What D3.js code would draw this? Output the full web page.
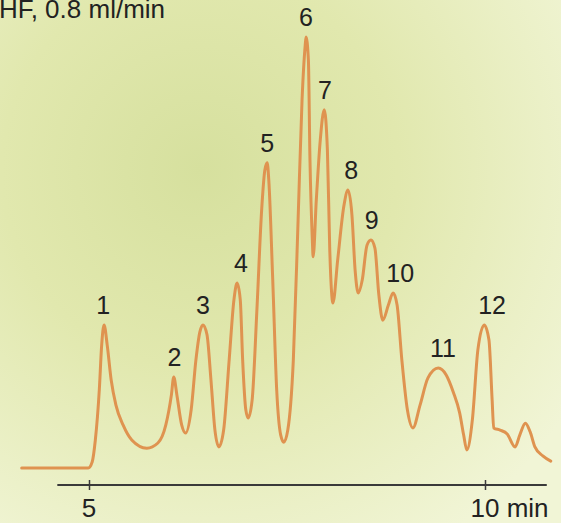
<!DOCTYPE html>
<html>
<head>
<meta charset="utf-8">
<script src="https://cdn.jsdelivr.net/npm/d3@7"></script>
<style>
html,body{margin:0;padding:0;overflow:hidden;background:#e8eebd;}
svg{display:block;}
</style>
</head>
<body>
<div id="chart"></div>
<script>
// ---- data ----
const titleText = "THF, 0.8 ml/min";
const retentionTime = [4.15,4.99,5.04,5.08,5.13,5.16,5.19,5.23,5.28,5.34,5.43,5.54,5.73,5.87,5.97,6.04,6.07,6.11,6.17,6.22,6.29,6.35,6.40,6.44,6.49,6.54,6.59,6.64,6.70,6.77,6.83,6.87,6.91,6.94,6.98,7.01,7.06,7.12,7.18,7.22,7.25,7.27,7.32,7.37,7.42,7.46,7.51,7.58,7.64,7.69,7.73,7.74,7.77,7.79,7.82,7.83,7.87,7.92,7.97,8.01,8.04,8.08,8.14,8.22,8.27,8.32,8.36,8.40,8.45,8.51,8.56,8.61,8.66,8.71,8.78,8.84,8.89,8.95,9.02,9.09,9.18,9.28,9.41,9.51,9.60,9.68,9.73,9.77,9.84,9.91,9.99,10.05,10.09,10.11,10.19,10.28,10.38,10.44,10.51,10.57,10.63,10.73,10.83];
const signal = [0,0,1.4,6.5,18.1,28.5,33.2,28.5,20.4,14.6,10.0,6.5,4.6,5.8,10.0,16.9,21.1,16.9,10.0,8.1,13.5,25.1,31.6,33.2,30.9,20.4,8.8,4.9,8.8,25.1,39.0,42.9,39.0,25.1,13.5,11.6,15.8,36.7,59.9,69.1,70.8,66.8,43.6,18.1,7.7,6.0,8.8,25.1,57.5,85.4,98.1,100,94.7,71.5,52.9,49.0,62.2,76.1,83.1,73.8,50.6,38.3,48.3,61.0,64.5,58.7,45.9,40.6,43.6,51.7,52.9,51.0,40.1,34.3,37.8,40.6,37.8,25.1,13.5,9.3,14.6,20.9,23.2,21.6,17.6,12.8,7.7,4.2,11.1,27.4,33.2,29.7,15.8,9.3,8.8,7.9,4.9,7.7,10.4,8.4,4.9,2.8,1.6];
const peakLabels = ["1","2","3","4","5","6","7","8","9","10","11","12"];
const peakLabelTime = [5.18,6.08,6.44,6.92,7.25,7.74,7.98,8.31,8.57,8.93,9.47,10.09];
const peakHeight = [33.2,21.1,33.2,42.9,70.8,100,83.1,64.5,52.9,40.6,23.2,33.2];
const tickValues = [5,10];
const tickLabels = ["5","10 min"];

// ---- layout ----
const W = 561, H = 523;
const svg = d3.select("#chart").append("svg").attr("width", W).attr("height", H);

const defs = svg.append("defs");
const grad = defs.append("radialGradient").attr("id","bg")
  .attr("gradientUnits","userSpaceOnUse").attr("cx",200).attr("cy",170).attr("r",440);
grad.append("stop").attr("offset","0").attr("stop-color","#d6e09e");
grad.append("stop").attr("offset","0.45").attr("stop-color","#e1e8ae");
grad.append("stop").attr("offset","1").attr("stop-color","#f1f5d6");
svg.append("rect").attr("width",W).attr("height",H).attr("fill","url(#bg)");

const x = d3.scaleLinear().domain([5,10]).range([89,485]);
const y = d3.scaleLinear().domain([0,100]).range([468,37]);

const fontFam = "'Liberation Sans', Arial, sans-serif";

// title (partially cut at the left edge)
svg.append("text").attr("x",-17).attr("y",18)
  .attr("font-family",fontFam).attr("font-size",26).attr("fill","#222")
  .text(titleText);

// trace
const pts = retentionTime.map((t,i)=>[t, signal[i]]);
const line = d3.line().x(d=>x(d[0])).y(d=>y(d[1])).curve(d3.curveMonotoneX);
svg.append("path").datum(pts).attr("d",line)
  .attr("fill","none").attr("stroke","#df9350").attr("stroke-width",3)
  .attr("stroke-linejoin","round").attr("stroke-linecap","round");

// peak labels
svg.append("g").selectAll("text").data(peakLabels).join("text")
  .attr("x",(d,i)=>x(peakLabelTime[i]))
  .attr("y",(d,i)=>y(peakHeight[i]) - 11)
  .attr("text-anchor","middle")
  .attr("font-family",fontFam).attr("font-size",25).attr("fill","#222")
  .text(d=>d);

// x axis
const axisY = 485;
const axis = d3.axisBottom(x).tickValues(tickValues).tickSize(5).tickFormat("");
const gAx = svg.append("g").attr("transform",`translate(0,${axisY})`).call(axis);
gAx.select(".domain").attr("d",`M${x(4.6)},0H${x(10.78)}`).attr("stroke","#3a3a3a").attr("stroke-width",2);
gAx.selectAll(".tick line").attr("y1",-5).attr("y2",5).attr("stroke","#3a3a3a").attr("stroke-width",1.5);

svg.append("g").selectAll("text").data(tickValues).join("text")
  .attr("x",d=>x(d)).attr("y",517)
  .attr("text-anchor",(d,i)=> i===tickValues.length-1 ? "start" : "middle")
  .attr("dx",(d,i)=> i===tickValues.length-1 ? "-0.556em" : 0)
  .attr("font-family",fontFam).attr("font-size",26).attr("fill","#222")
  .text((d,i)=>tickLabels[i]);
</script>
</body>
</html>
